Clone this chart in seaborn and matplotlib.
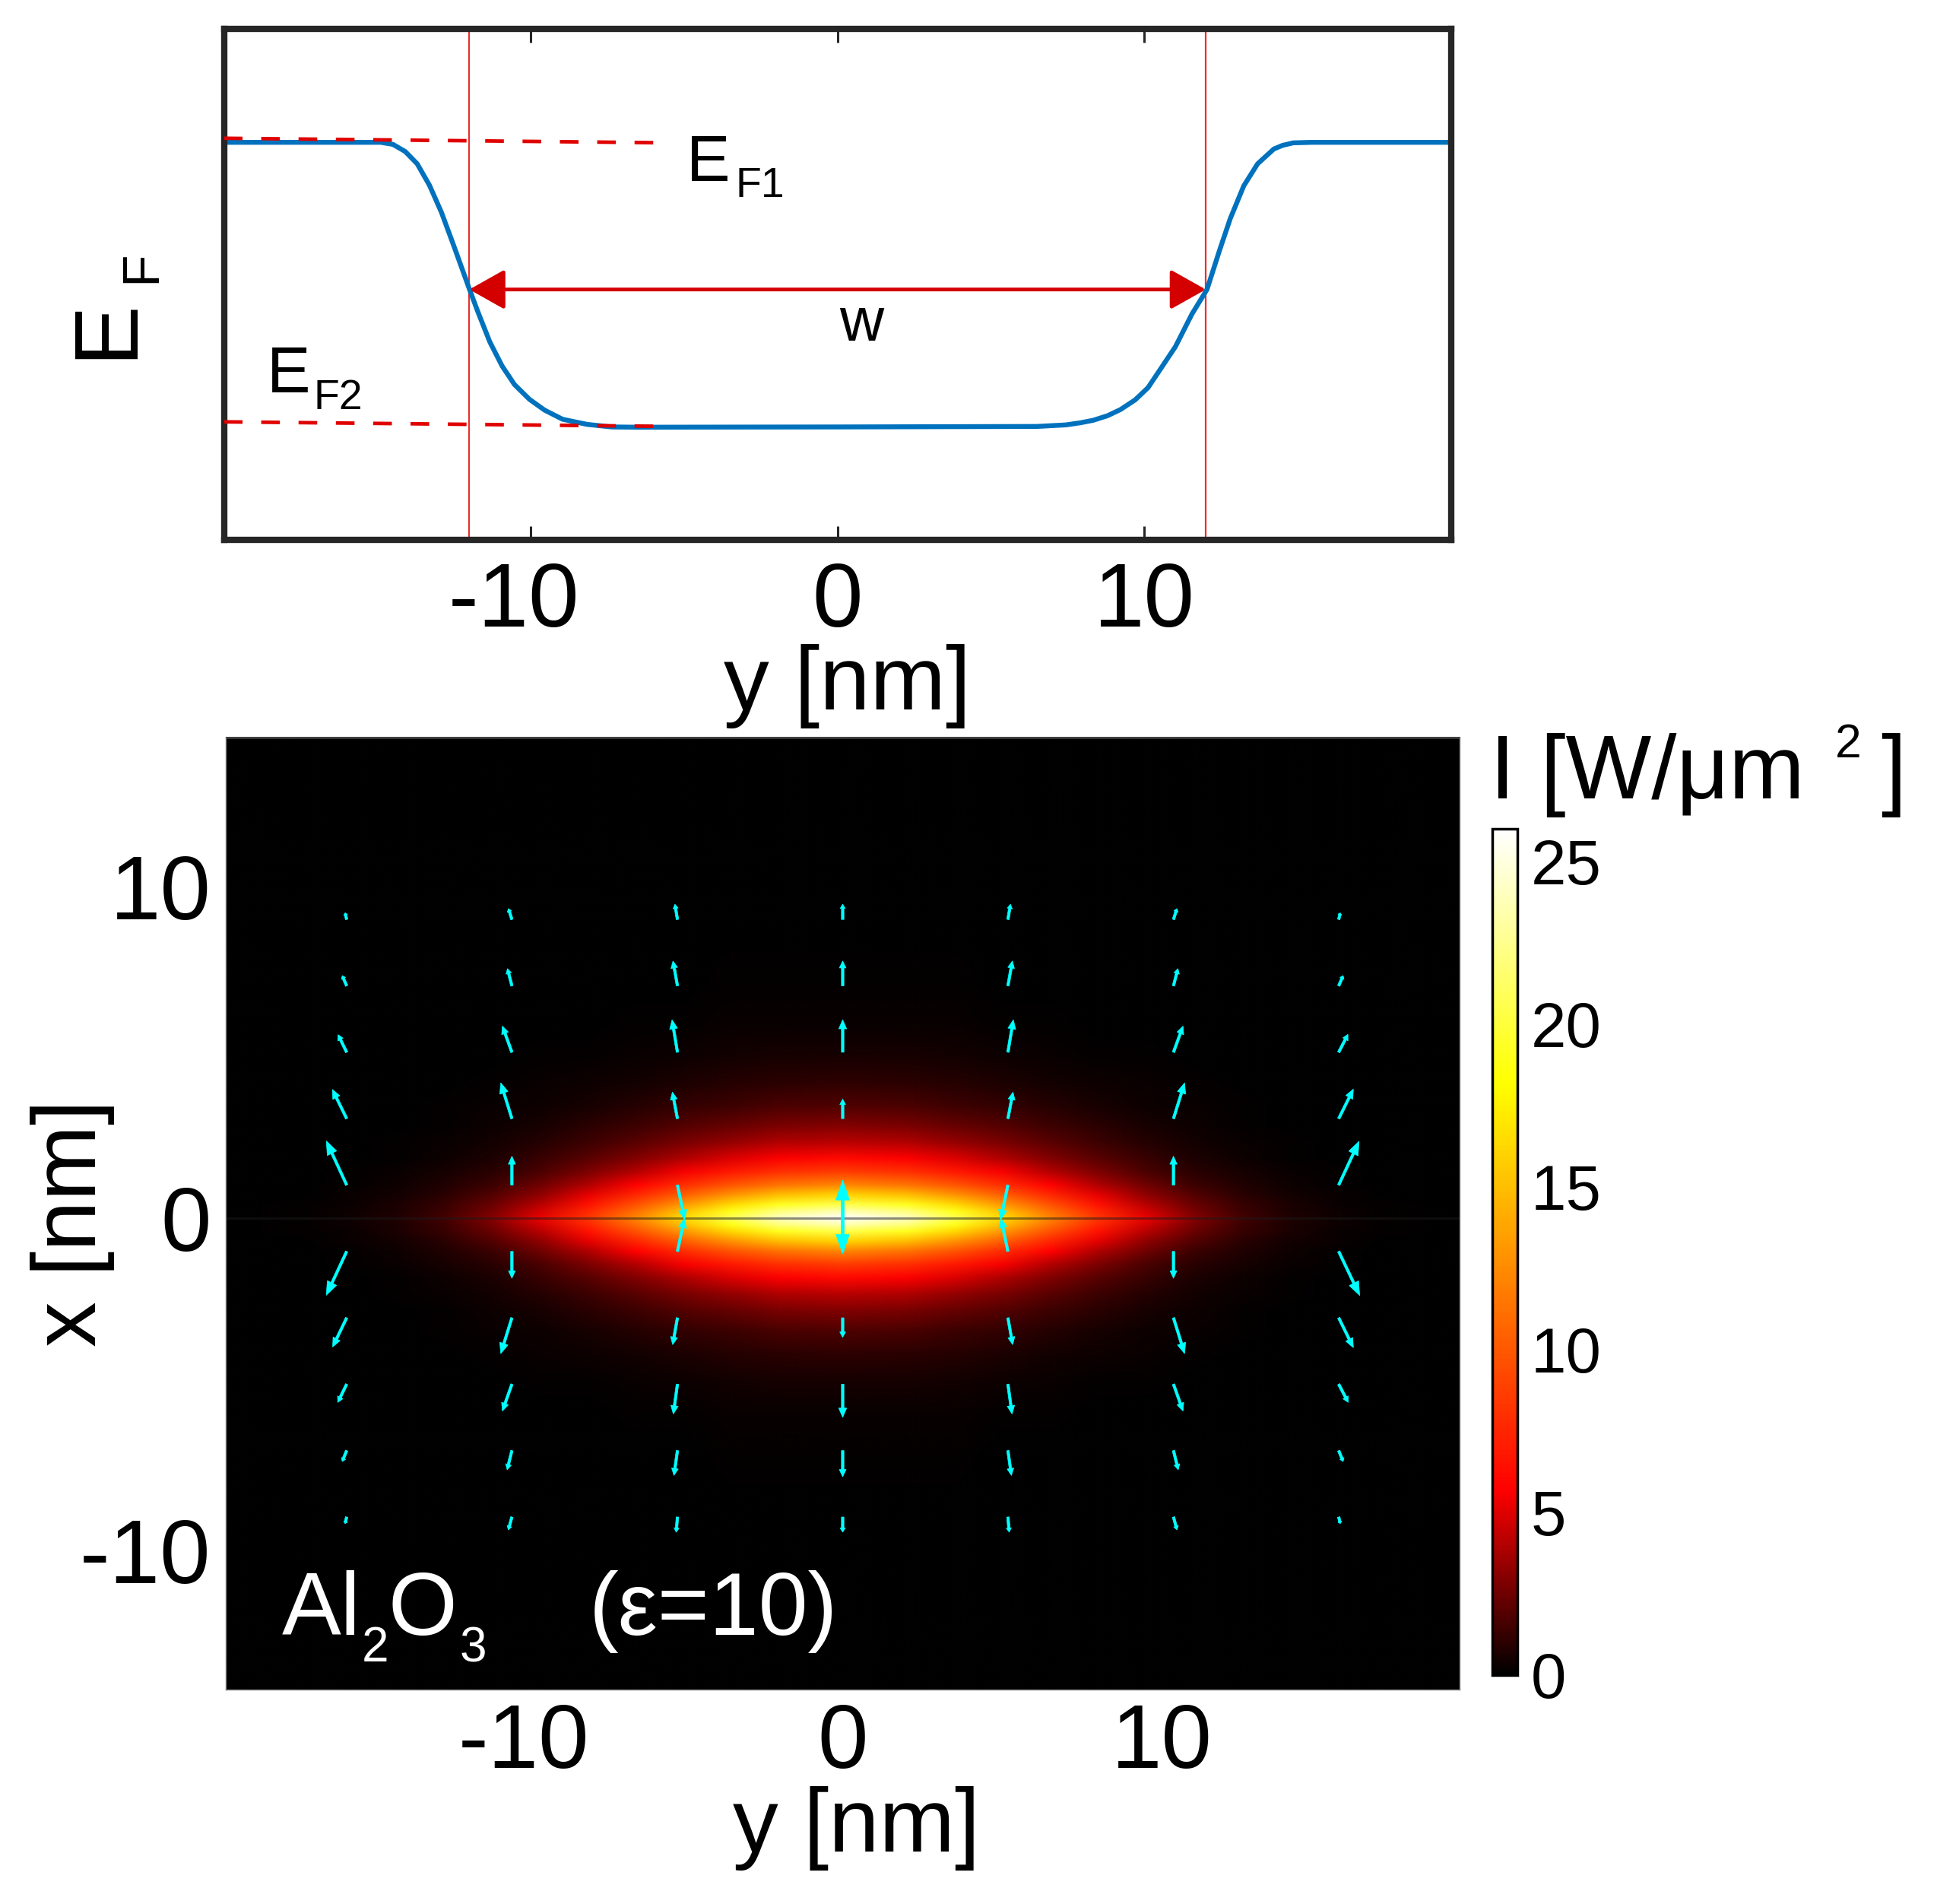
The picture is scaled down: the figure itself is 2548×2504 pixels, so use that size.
import numpy as np
import matplotlib
matplotlib.use("Agg")
import matplotlib.pyplot as plt
import matplotlib.transforms as mtransforms
import seaborn as sns
from matplotlib.colors import LinearSegmentedColormap, Normalize
from matplotlib.image import NonUniformImage

W, H, DPI = 2548, 2504, 100

# ---- top panel: Fermi level profile (arbitrary units, axis 0..1)
ef_y = [-20, -14.89, -14.49, -14.09, -13.70, -13.30, -12.91, -12.51, -12.12, -12.0, -11.72,
        -11.33, -10.93, -10.53, -10.04, -9.55, -8.96, -8.16, -7.37, -6.5, 0, 6.5, 7.44, 7.9,
        8.33, 8.8, 9.22, 9.7, 10.12, 11.01, 11.55, 12.04, 12.44, 12.80, 13.24, 13.69, 14.22,
        14.5, 14.85, 15.47, 20]
ef_val = [0.778, 0.778, 0.774, 0.760, 0.736, 0.694, 0.641, 0.576, 0.511, 0.491, 0.446,
          0.387, 0.340, 0.304, 0.275, 0.254, 0.236, 0.226, 0.221, 0.2205, 0.221, 0.222, 0.225,
          0.229, 0.234, 0.243, 0.255, 0.274, 0.298, 0.378, 0.442, 0.490, 0.565, 0.629, 0.693,
          0.736, 0.765, 0.772, 0.777, 0.778, 0.778]
ef1_dash_y = [-20, -5.45]
ef1_dash_v = [0.786, 0.777]
ef2_dash_y = [-20, -5.45]
ef2_dash_v = [0.231, 0.222]
w_edges = [-12, 12]
w_level = 0.49

# ---- bottom panel: intensity map I(y, x) = peak * along-y profile * across-x profile
peak_I = 26.0
heat_y = [-19.5, -17, -15.5, -14, -12.5, -11, -9.5, -8, -6.5, -5, -3.5, -2, 0,
          2, 3.5, 5, 6.5, 8, 9.5, 11, 12.5, 14, 15.5, 17, 19.5]
prof_y = [0.0012, 0.006, 0.014, 0.03, 0.06, 0.115, 0.20, 0.32, 0.47, 0.64, 0.80, 0.93, 1.0,
          0.93, 0.80, 0.64, 0.47, 0.32, 0.20, 0.115, 0.06, 0.03, 0.014, 0.006, 0.0012]
heat_x = [-15, -9, -7, -5.8, -4.9, -4.1, -3.4, -2.8, -2.3, -1.8, -1.4, -1.0, -0.7, -0.4, -0.2, 0,
          0.2, 0.4, 0.7, 1.0, 1.4, 1.8, 2.3, 2.8, 3.4, 4.1, 4.9, 5.8, 7, 9, 15]
prof_x = [0, 0.0015, 0.005, 0.011, 0.022, 0.040, 0.068, 0.11, 0.16, 0.235, 0.33, 0.47, 0.62,
          0.79, 0.91, 1.0, 0.91, 0.79, 0.62, 0.47, 0.33, 0.235, 0.16, 0.11, 0.068, 0.040,
          0.022, 0.011, 0.005, 0.0015, 0]

# field arrows: tails on a grid, components (along y, along x) in nm
arrow_cols = [-15.55, -10.37, -5.18, 0, 5.18, 10.37, 15.55]
arrow_rows = [9, 7, 5, 3, 1, -1, -3, -5, -7, -9]
arrow_u = [
    [-0.05, -0.11, -0.08, 0, 0.08, 0.11, 0.05],
    [-0.14, -0.14, -0.14, 0, 0.14, 0.14, 0.14],
    [-0.27, -0.30, -0.17, 0, 0.17, 0.30, 0.29],
    [-0.45, -0.35, -0.16, 0, 0.16, 0.35, 0.46],
    [-0.64, 0, 0.23, 0, -0.23, 0, 0.64],
    [-0.64, 0, 0.22, 0, -0.22, 0, 0.66],
    [-0.44, -0.35, -0.15, 0, 0.15, 0.35, 0.46],
    [-0.28, -0.30, -0.13, 0, 0.13, 0.30, 0.30],
    [-0.14, -0.15, -0.11, 0, 0.11, 0.15, 0.14],
    [-0.05, -0.11, -0.04, 0, 0.04, 0.11, 0.05],
]
arrow_v = [
    [0.20, 0.33, 0.46, 0.46, 0.46, 0.33, 0.20],
    [0.31, 0.52, 0.75, 0.75, 0.75, 0.52, 0.31],
    [0.53, 0.79, 0.98, 0.98, 0.98, 0.79, 0.54],
    [0.88, 1.08, 0.80, 0.59, 0.80, 1.08, 0.89],
    [1.33, 0.87, -1.05, -2.07, -1.05, 0.87, 1.32],
    [-1.32, -0.81, 1.00, 2.15, 1.00, -0.81, -1.33],
    [-0.88, -1.08, -0.81, -0.59, -0.81, -1.08, -0.90],
    [-0.55, -0.81, -0.90, -1.00, -0.90, -0.81, -0.55],
    [-0.33, -0.58, -0.75, -0.79, -0.75, -0.58, -0.33],
    [-0.20, -0.39, -0.46, -0.46, -0.46, -0.39, -0.20],
]
cbar_ticks = [0, 5, 10, 15, 20, 25]
xticks = [-10, 0, 10]

sns.set_theme(style="white")
plt.rcParams["font.family"] = ["Liberation Sans", "DejaVu Sans"]
plt.rcParams["axes.unicode_minus"] = False
plt.rcParams["text.color"] = "black"
plt.rcParams["xtick.labelcolor"] = "black"
plt.rcParams["ytick.labelcolor"] = "black"


def fx(px):
    return px / W


def fy(py):
    return 1 - py / H


fig = plt.figure(figsize=(W / DPI, H / DPI), dpi=DPI)

# ---------------- top panel
ax1 = fig.add_axes([fx(294.5), fy(710), (1909 - 294.5) / W, (710 - 38) / H])
for yv in w_edges:
    ax1.axvline(yv, color="#E8302F", lw=1.6, zorder=1)
sns.lineplot(x=ef_y, y=ef_val, ax=ax1, color="#0072BD", linewidth=4.6,
             estimator=None, zorder=2)
ax1.plot(ef1_dash_y, ef1_dash_v, color="#E00000", lw=3.4, dashes=(5.2, 5.2), zorder=3)
ax1.plot(ef2_dash_y, ef2_dash_v, color="#E00000", lw=3.4, dashes=(5.2, 5.2), zorder=3)
ax1.annotate("", xy=(w_edges[0], w_level), xytext=(w_edges[1], w_level),
             arrowprops=dict(arrowstyle="<|-|>,head_length=0.8,head_width=0.45",
                             mutation_scale=36, lw=3.5, color="#D40000",
                             shrinkA=0, shrinkB=0), zorder=4)
ax1.set_xlim(-20, 20)
ax1.set_ylim(0, 1)
ax1.set_xticks(xticks)
ax1.set_yticks([])
ax1.tick_params(axis="x", direction="in", length=13, width=2.2, color="#262626",
                top=True, bottom=True, labelsize=86, pad=20, labelcolor="black")
for sp in ax1.spines.values():
    sp.set_linewidth(6)
    sp.set_color("#262626")
ax1.set_xlabel("")
ax1.set_ylabel("")
# the negative label hangs a little to the left of its tick, as in the source
shift = mtransforms.ScaledTranslation(-22 / DPI, 0, fig.dpi_scale_trans)
for lab in ax1.get_xticklabels():
    if lab.get_text().startswith("-") or lab.get_text().startswith("\u2212"):
        lab.set_transform(lab.get_transform() + shift)

fig.text(fx(1115), fy(902), "y [nm]", fontsize=86, ha="center", va="center")
# E_F axis label (rotated), E with subscript F
fig.text(fx(172), fy(472), "E", fontsize=86, rotation=90, rotation_mode="anchor",
         ha="left", va="baseline")
fig.text(fx(204), fy(372), "F", fontsize=50, rotation=90, rotation_mode="anchor",
         ha="left", va="baseline")
# E_F1 / E_F2 / w annotations
fig.text(fx(903), fy(237.5), "E", fontsize=62, va="baseline")
fig.text(fx(968), fy(259), "F1", fontsize=40, va="baseline")
fig.text(fx(350.5), fy(515.6), "E", fontsize=62, va="baseline")
fig.text(fx(412.5), fy(537.5), "F2", fontsize=40, va="baseline")
fig.text(fx(1133), fy(447.6), "w", fontsize=58, ha="center", va="baseline")

# ---------------- bottom panel
cmap = LinearSegmentedColormap.from_list(
    "hotmat", [(0.0, "#000000"), (0.218, "#FF0000"), (0.70, "#FFFF00"), (1.0, "#FFFFFF")])
norm = Normalize(vmin=0, vmax=peak_I)

ax2 = fig.add_axes([fx(297), fy(2222), (1920 - 297) / W, (2222 - 970) / H])
intensity = peak_I * np.outer(prof_x, prof_y)
im = NonUniformImage(ax2, interpolation="bilinear", cmap=cmap, norm=norm)
im.set_data(heat_y, heat_x, intensity)
ax2.add_image(im)
ax2.axhline(0, color="k", alpha=0.5, lw=2.2, zorder=2)

for i, xt in enumerate(arrow_rows):
    for j, yt in enumerate(arrow_cols):
        u, v = arrow_u[i][j], arrow_v[i][j]
        L = np.hypot(u, v)
        ax2.arrow(yt, xt, u, v, width=0.08, head_width=0.09 + 0.16 * L,
                  head_length=0.28 * L, length_includes_head=True,
                  fc="#00FFFF", ec="#00FFFF", lw=0.5, zorder=3)

ax2.set_xlim(-19.34, 19.34)
ax2.set_ylim(-14.2, 14.48)
ax2.set_xticks(xticks)
ax2.set_yticks(xticks)
ax2.tick_params(axis="x", length=0, labelsize=86, pad=12, labelcolor="black")
ax2.tick_params(axis="y", length=0, labelsize=86, pad=14, labelcolor="black")
for sp in ax2.spines.values():
    sp.set_linewidth(1)
    sp.set_color("#808080")
ax2.grid(False)

fig.text(fx(371), fy(2150), "Al", fontsize=84, color="white", va="baseline")
fig.text(fx(476), fy(2185), "2", fontsize=46, color="white", va="baseline")
fig.text(fx(511), fy(2150), "O", fontsize=84, color="white", va="baseline")
fig.text(fx(605), fy(2185), "3", fontsize=46, color="white", va="baseline")
fig.text(fx(775), fy(2150), "(ε=10)", fontsize=84, color="white", va="baseline")

fig.text(fx(1127), fy(2405), "y [nm]", fontsize=86, ha="center", va="center")
fig.text(fx(96), fy(1608), "x [nm]", fontsize=86, rotation=90, ha="center", va="center")

# ---------------- colorbar
cax = fig.add_axes([fx(1963), fy(2203), 32.5 / W, (2203 - 1090) / H])
cb = fig.colorbar(im, cax=cax, ticks=cbar_ticks)
cb.outline.set_linewidth(2.5)
cb.outline.set_edgecolor("black")
cax.tick_params(labelsize=60, direction="in", length=5, width=2, color="#444444",
                pad=13, left=True, right=True, labelcolor="black")
fig.text(fx(1960), fy(1050), "I [W/μm", fontsize=86, va="baseline")
fig.text(fx(2414), fy(996), "2", fontsize=45, va="baseline")
fig.text(fx(2474), fy(1050), "]", fontsize=86, va="baseline")

fig.savefig("out.png", dpi=DPI)
